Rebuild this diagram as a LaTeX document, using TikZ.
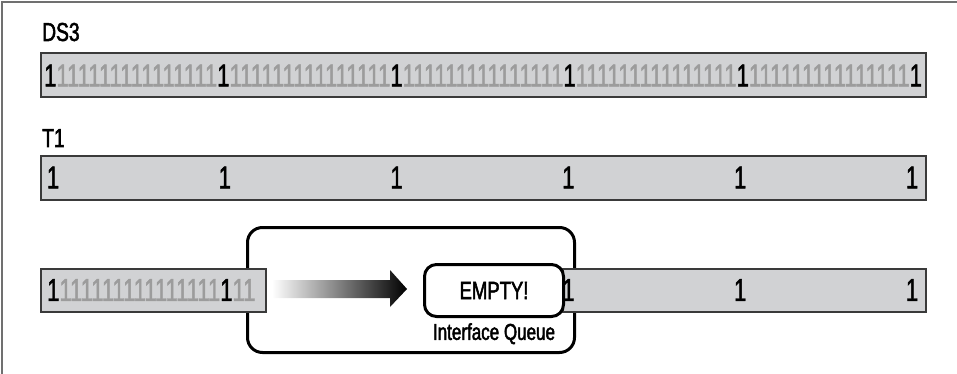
\documentclass[tikz,border=0pt]{standalone}
\usepackage{fontspec}
\setmainfont{Liberation Sans}[FakeStretch=0.74,FakeBold=2]
\newfontfamily\bitfont{Liberation Sans}[FakeStretch=0.697,FakeBold=1.5]
\usepackage{xcolor}
\usetikzlibrary{positioning}
\definecolor{barfill}{HTML}{D1D2D4}
\definecolor{barline}{HTML}{3A3A3A}
\definecolor{dimone}{HTML}{9C9C9C}
\definecolor{framec}{HTML}{707070}
\tikzset{
  bar/.style={draw=barline,fill=barfill,line width=2pt,anchor=north west,inner sep=0pt},
  lbl/.style={font=\fontsize{26}{26}\selectfont,anchor=base west,inner sep=0pt},
  one/.style={font=\bitfont\fontsize{31.6}{32}\selectfont,inner sep=0pt},
  bits/.style={one,anchor=west},
  qbox/.style={draw=black,line width=3pt,rounded corners=12pt,inner sep=0pt,anchor=north west}
}
% fifteen bits between two counted ones
\newcommand{\dimrun}{\textcolor{dimone}{111111111111111}}
\newcommand{\tick}{171.8}

\begin{document}
\begin{tikzpicture}[x=1pt,y=-1pt]
\useasboundingbox (0,0) rectangle (957,374);
\draw[framec,line width=1.5pt] (2,374) -- (2,2) -- (957,2);
% labels
\node[lbl] (ds3lbl) at (42,41) {DS3};
\node[lbl] (t1lbl) at (42,147) {T1};
% DS3 line, every bit sent
\node[bar,minimum width=885pt,minimum height=44pt] (ds3) at (40,52) {};
\node[bits] (ds3bits) at (44,75.5) {1\dimrun1\dimrun1\dimrun1\dimrun1\dimrun1};
% T1 line
\node[bar,minimum width=885pt,minimum height=44pt] (t1) at (40,155) {};
\foreach \k in {0,...,5}{
  \node[one] (t1-\k) at (53+\k*\tick,177.5) {1};
}
% router with interface queue
\node[qbox,rounded corners=15pt,minimum width=327pt,minimum height=125pt] (router) at (246,226) {};
\node[bar,minimum width=225pt,minimum height=43pt] (inbar) at (40,268) {};
\node[bits] (inbits) at (47,290) {1\dimrun1\textcolor{dimone}{11}};
\node[bar,minimum width=363pt,minimum height=43pt] (outbar) at (562,268) {};
\foreach \k in {3,4,5}{
  \node[one] (out-\k) at (53+\k*\tick,290) {1};
}
\node[qbox,fill=white,minimum width=139pt,minimum height=52pt,
  font=\fontsize{25}{25}\selectfont] (queue) at (423,263) {EMPTY!};
\node[below=5pt of queue,inner sep=0pt,font=\fontsize{23}{23}\selectfont] (qlbl) {Interface Queue};
% fading arrow into the queue
\shade[left color=white,right color=black]
  (272,280) -- (390,280) -- (390,270) -- (407,289) -- (390,307) -- (390,298) -- (272,298) -- cycle;
\end{tikzpicture}
\end{document}
